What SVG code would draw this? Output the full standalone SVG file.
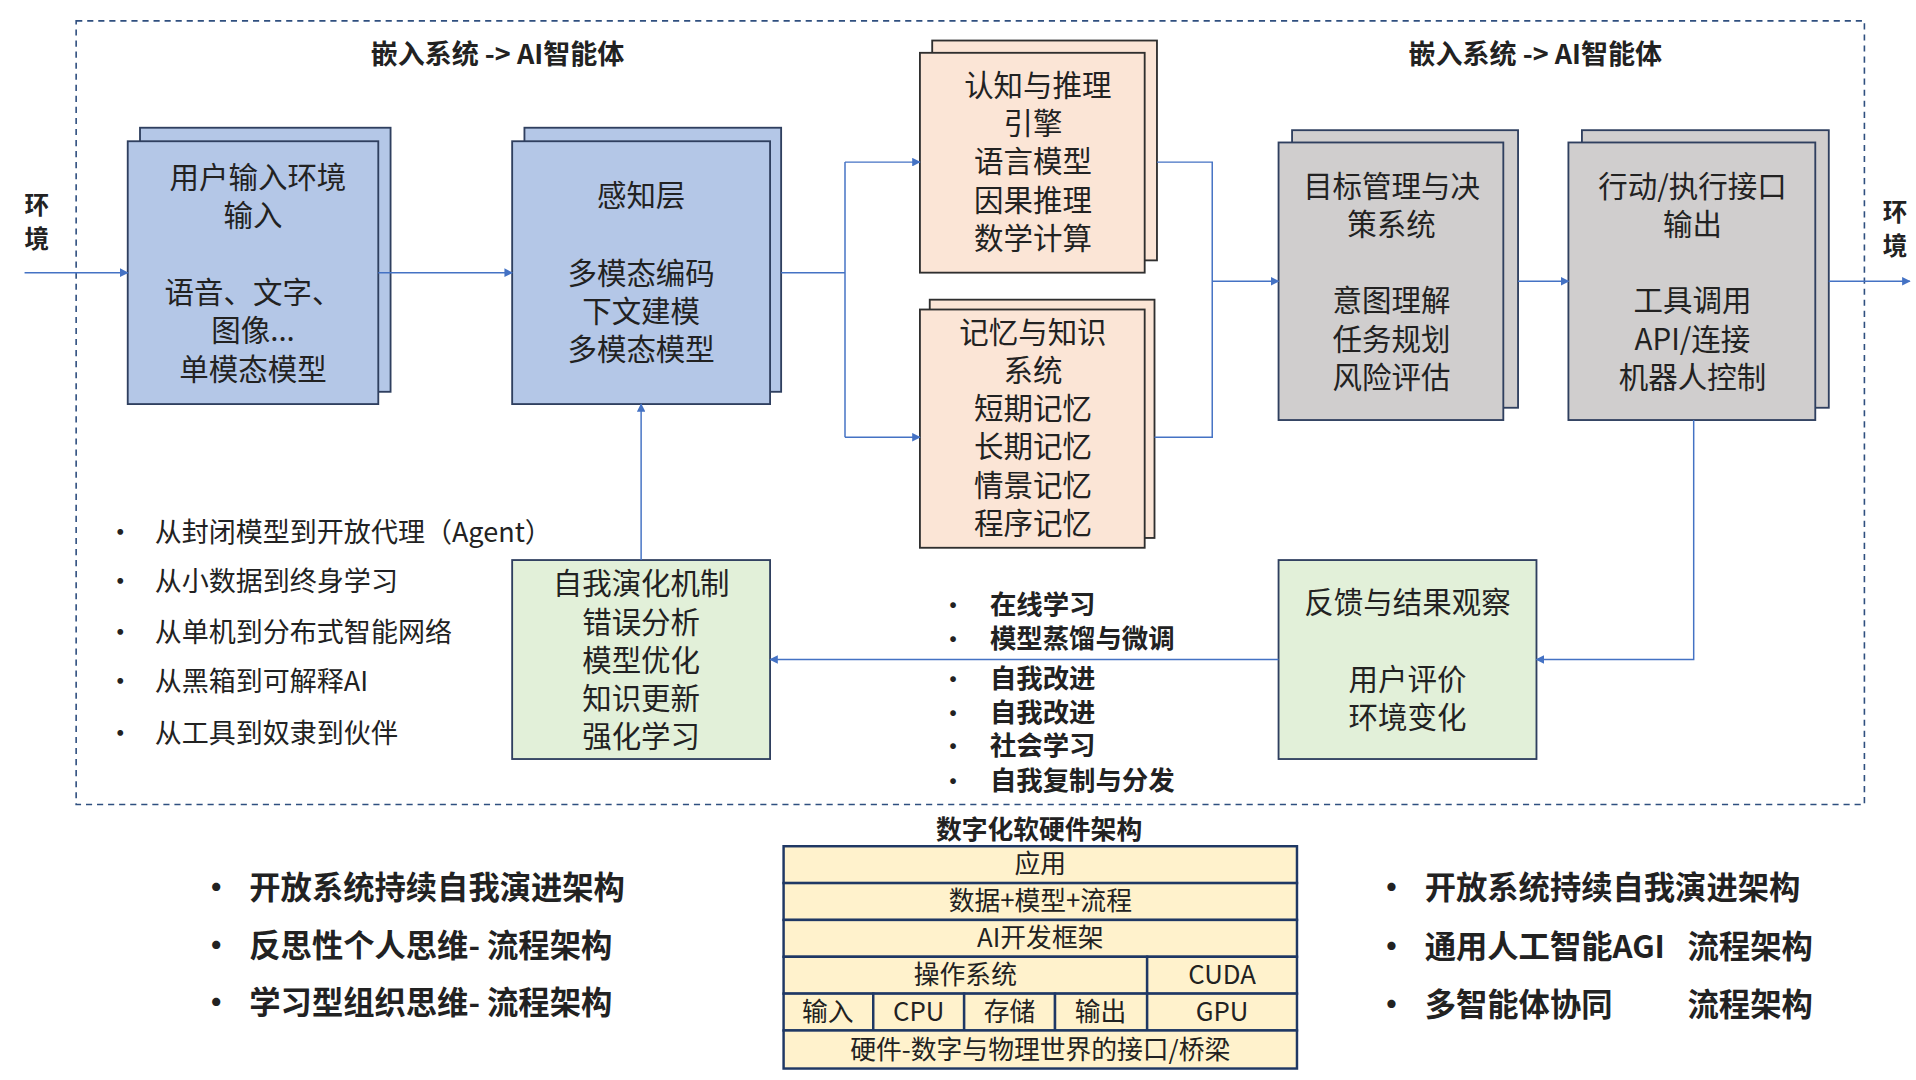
<svg xmlns="http://www.w3.org/2000/svg" width="1916" height="1080" viewBox="0 0 1916 1080">
<defs>
<marker id="ar" viewBox="0 0 10 10" refX="9" refY="5" markerWidth="7" markerHeight="7" orient="auto" markerUnits="userSpaceOnUse"><path d="M0,0 L10,5 L0,10 z" fill="#4472C4"/></marker>
<style>
text{font-family:"Noto Sans CJK SC","Liberation Sans",sans-serif;fill:#222}
.t{font-size:24px;text-anchor:middle}
.s{font-size:20px}
.b{font-weight:bold}
.bl{fill:#B4C7E7;stroke:#2F3F5F;stroke-width:1.5}
.pe{fill:#FBE5D6;stroke:#2F2F2F;stroke-width:1.5}
.gr{fill:#D0CECE;stroke:#2F3F5F;stroke-width:1.5}
.gn{fill:#E2F0D9;stroke:#2F3F5F;stroke-width:1.5}
.ye{fill:#FFF2CC;stroke:#1F3864;stroke-width:2}
.c{fill:none;stroke:#4472C4;stroke-width:1.2}
.d{font-size:22px}
.m{font-size:18px}
</style>
</defs>
<rect width="1916" height="1080" fill="#fff"/>
<g transform="scale(1.2282)">
<rect x="62" y="17" width="1456" height="638" fill="none" stroke="#2F4F7F" stroke-width="1.3" stroke-dasharray="5,4"/>
<text class="b" font-size="22" x="405" y="52" text-anchor="middle">嵌入系统 -&gt; AI智能体</text>
<text class="b" font-size="22" x="1250" y="52" text-anchor="middle">嵌入系统 -&gt; AI智能体</text>
<text class="s b" x="30" y="174" text-anchor="middle">环</text><text class="s b" x="30" y="202" text-anchor="middle">境</text>
<text class="s b" x="1543" y="180" text-anchor="middle">环</text><text class="s b" x="1543" y="208" text-anchor="middle">境</text>

<g id="n1"><rect class="bl" x="114" y="104" width="204" height="215"/><rect class="bl" x="104" y="115" width="204" height="214"/>
<text class="t" x="210" y="153">用户输入环境</text><text class="t" x="206" y="184">输入</text><text class="t" x="206" y="247">语音、文字、</text><text class="t" x="206" y="278">图像...</text><text class="t" x="206" y="309">单模态模型</text></g>
<g id="n2"><rect class="bl" x="427" y="104" width="209" height="215"/><rect class="bl" x="417" y="115" width="210" height="214"/>
<text class="t" x="522" y="168">感知层</text><text class="t" x="522" y="231">多模态编码</text><text class="t" x="522" y="262">下文建模</text><text class="t" x="522" y="293">多模态模型</text></g>
<g id="n3"><rect class="pe" x="759" y="33" width="183" height="179"/><rect class="pe" x="749" y="43" width="183" height="179"/>
<text class="t" x="845" y="78">认知与推理</text><text class="t" x="841" y="109">引擎</text><text class="t" x="841" y="140">语言模型</text><text class="t" x="841" y="172">因果推理</text><text class="t" x="841" y="203">数学计算</text></g>
<g id="n4"><rect class="pe" x="757" y="244" width="183" height="194"/><rect class="pe" x="749" y="252" width="183" height="194"/>
<text class="t" x="841" y="279">记忆与知识</text><text class="t" x="841" y="310">系统</text><text class="t" x="841" y="341">短期记忆</text><text class="t" x="841" y="372">长期记忆</text><text class="t" x="841" y="404">情景记忆</text><text class="t" x="841" y="435">程序记忆</text></g>
<g id="n5"><rect class="gr" x="1052" y="106" width="184" height="226"/><rect class="gr" x="1041" y="116" width="183" height="226"/>
<text class="t" x="1133" y="160">目标管理与决</text><text class="t" x="1133" y="191">策系统</text><text class="t" x="1133" y="253">意图理解</text><text class="t" x="1133" y="285">任务规划</text><text class="t" x="1133" y="316">风险评估</text></g>
<g id="n6"><rect class="gr" x="1288" y="106" width="201" height="226"/><rect class="gr" x="1277" y="116" width="201" height="226"/>
<text class="t" x="1378" y="160">行动/执行接口</text><text class="t" x="1378" y="191">输出</text><text class="t" x="1378" y="253">工具调用</text><text class="t" x="1378" y="285">API/连接</text><text class="t" x="1378" y="316">机器人控制</text></g>
<g id="n7"><rect class="gn" x="417" y="456" width="210" height="162"/>
<text class="t" x="522" y="484">自我演化机制</text><text class="t" x="522" y="515">错误分析</text><text class="t" x="522" y="546">模型优化</text><text class="t" x="522" y="577">知识更新</text><text class="t" x="522" y="608">强化学习</text></g>
<g id="n8"><rect class="gn" x="1041" y="456" width="210" height="162"/>
<text class="t" x="1146" y="499">反馈与结果观察</text><text class="t" x="1146" y="562">用户评价</text><text class="t" x="1146" y="593">环境变化</text></g>

<g id="connectors">
<path class="c" d="M20,222 H104" marker-end="url(#ar)"/>
<path class="c" d="M308,222 H417" marker-end="url(#ar)"/>
<path class="c" d="M636,222 H688 M688,132 V356"/>
<path class="c" d="M688,132 H749" marker-end="url(#ar)"/>
<path class="c" d="M688,356 H749" marker-end="url(#ar)"/>
<path class="c" d="M942,132 H987 V356 H940"/>
<path class="c" d="M987,229 H1041" marker-end="url(#ar)"/>
<path class="c" d="M1236,229 H1277" marker-end="url(#ar)"/>
<path class="c" d="M1489,229 H1555" marker-end="url(#ar)"/>
<path class="c" d="M1379,342 V537 H1251" marker-end="url(#ar)"/>
<path class="c" d="M1041,537 H627" marker-end="url(#ar)"/>
<path class="c" d="M522,456 V329" marker-end="url(#ar)"/>
</g>

<g font-size="22">
<text class="d" x="87" y="441">•</text><text x="126" y="441">从封闭模型到开放代理（Agent）</text>
<text class="d" x="87" y="481">•</text><text x="126" y="481">从小数据到终身学习</text>
<text class="d" x="87" y="523">•</text><text x="126" y="523">从单机到分布式智能网络</text>
<text class="d" x="87" y="563">•</text><text x="126" y="563">从黑箱到可解释AI</text>
<text class="d" x="87" y="605">•</text><text x="126" y="605">从工具到奴隶到伙伴</text>
</g>
<g class="b" font-size="21.5">
<text class="m" x="767" y="499">•</text><text x="806" y="500">在线学习</text>
<text class="m" x="767" y="527">•</text><text x="806" y="528">模型蒸馏与微调</text>
<text class="m" x="767" y="559">•</text><text x="806" y="560">自我改进</text>
<text class="m" x="767" y="587">•</text><text x="806" y="588">自我改进</text>
<text class="m" x="767" y="614">•</text><text x="806" y="615">社会学习</text>
<text class="m" x="767" y="642">•</text><text x="806" y="643">自我复制与分发</text>
</g>

<g id="table">
<text class="b" font-size="21" x="846" y="683" text-anchor="middle">数字化软硬件架构</text>
<rect class="ye" x="638" y="689" width="418" height="30"/><rect class="ye" x="638" y="719" width="418" height="30"/><rect class="ye" x="638" y="749" width="418" height="30"/>
<rect class="ye" x="638" y="779" width="296" height="30"/><rect class="ye" x="934" y="779" width="122" height="30"/>
<rect class="ye" x="638" y="809" width="73" height="30"/><rect class="ye" x="711" y="809" width="74" height="30"/><rect class="ye" x="785" y="809" width="74" height="30"/><rect class="ye" x="859" y="809" width="75" height="30"/><rect class="ye" x="934" y="809" width="122" height="30"/>
<rect class="ye" x="638" y="839" width="418" height="31"/>
<g font-size="21" text-anchor="middle">
<text x="847" y="711">应用</text><text x="847" y="741">数据+模型+流程</text><text x="847" y="771">AI开发框架</text>
<text x="786" y="801">操作系统</text><text x="995" y="801">CUDA</text>
<text x="674" y="831">输入</text><text x="748" y="831">CPU</text><text x="822" y="831">存储</text><text x="896" y="831">输出</text><text x="995" y="831">GPU</text>
<text x="847" y="862">硬件-数字与物理世界的接口/桥梁</text>
</g>
</g>

<g class="b" font-size="25.5">
<text font-size="26" x="163" y="732">•</text><text x="203" y="732">开放系统持续自我演进架构</text>
<text font-size="26" x="163" y="779">•</text><text x="203" y="779">反思性个人思维- 流程架构</text>
<text font-size="26" x="163" y="826">•</text><text x="203" y="826">学习型组织思维- 流程架构</text>
<text font-size="26" x="1120" y="732">•</text><text x="1160" y="732">开放系统持续自我演进架构</text>
<text font-size="26" x="1120" y="780">•</text><text x="1160" y="780">通用人工智能AGI</text><text x="1374" y="780">流程架构</text>
<text font-size="26" x="1120" y="827">•</text><text x="1160" y="827">多智能体协同</text><text x="1374" y="827">流程架构</text>
</g>
</g>
</svg>
